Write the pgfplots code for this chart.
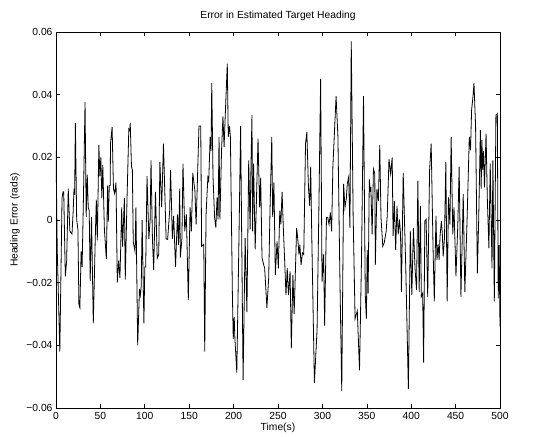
\documentclass[border=0pt]{standalone}
\usepackage{pgfplots}
\pgfplotsset{compat=1.18}
\usepackage{fontspec}
\setmainfont{Liberation Sans}
\begin{document}
\begin{tikzpicture}[font=\fontsize{10.3bp}{12bp}\selectfont]
\begin{axis}[
  scale only axis,
  width=444bp, height=376bp,
  xmin=0, xmax=500, ymin=-0.06, ymax=0.06,
  xtick={0,50,...,500},
  ytick={-0.06,-0.04,-0.02,0,0.02,0.04,0.06},
  yticklabels={−0.06,−0.04,−0.02,0,0.02,0.04,0.06},
  scaled y ticks=false,
  /pgf/number format/assume math mode=true,
  tick align=inside,
  major tick length=4.5bp,
  axis line style={line width=0.7bp},
  every tick/.style={black,line width=0.6bp},
  xticklabel style={yshift=-0.5bp},
  title={Error in Estimated Target Heading},
  title style={at={([yshift=10bp]axis description cs:0.5,1)},anchor=center},
  xlabel={Time(s)},
  xlabel style={at={([yshift=-20bp]axis description cs:0.5,0)},anchor=center},
  ylabel={Heading Error (rads)},
  ylabel style={at={([xshift=-41bp]axis description cs:0,0.5)},anchor=center},
]
\coordinate (fsw) at (rel axis cs:0,0);
\coordinate (fne) at (rel axis cs:1,1);
\addplot[black,line width=0.8bp,mark=none] coordinates {
(0,0.022)(1.4,-0.0095)(4.3,-0.042)(6.8,0.007)(7.9,0.009)(8.7,0.009)(10.5,-0.018)(12,-0.013)(13.8,0.010)(15.6,-0.0035)(16.7,-0.004)(18,-0.0045)(19.3,0.0025)(20.3,0.010)(21,0.008)(21.8,0.031)(23.3,0.0)(24.7,-0.003)(25.8,-0.027)(26.9,-0.028)(28.3,-0.010)(29.4,-0.015)(31,0.0085)(32.7,0.0376)(34,0.001)(35.2,0.0145)(36.3,0.004)(37.4,0.003)(38.5,-0.0195)(40,0.001)(42,-0.033)(44.3,-0.005)(45.4,0.0065)(46.5,-0.0065)(48.3,0.024)(49.4,0.014)(50.5,0.020)(51.6,0.007)(52.7,0.0175)(54.5,-0.003)(56.7,-0.0124)(58.1,0.011)(58.9,-0.0005)(60,0.011)(61,0.011)(61.4,0.0245)(63.2,0.0296)(64.7,0.010)(66,0.0085)(67.6,0.012)(69,-0.020)(70.5,-0.013)(72,-0.0185)(74,0.004)(75,-0.0085)(77,0.007)(78,-0.019)(80,0.007)(82,0.029)(83,0.0285)(83.6,0.031)(85,0.017)(86,0.016)(87,-0.007)(89,-0.010)(90,0.004)(92,-0.040)(94,-0.022)(95,-0.024)(96,-0.021)(97,0.0)(99,-0.033)(100,-0.015)(101,-0.015)(102.5,0.014)(104.6,-0.006)(106,0.0)(107,0.019)(108.6,-0.006)(110,-0.016)
(112,0.009)(114,-0.0122)(115.7,-0.011)(117,0.0185)(119,0.004)(121,0.0244)(124,-0.006)(125.7,-0.0062)(128,0.0029)(129,0.016)(130,0.006)(131,-0.006)(132.5,0.0013)(134.6,-0.015)(136.8,0.0018)(138,-0.008)(139.3,0.010)(140,-0.012)(141.8,-0.006)(143,0.018)(145,-0.0036)(146.8,0.0018)(149,-0.0255)(151,0.004)(152.5,-0.0036)(154,0.015)(156.4,0.0093)(157.8,-0.0014)(159,0.010)(161,0.030)(163,0.030)(164,-0.0084)(166.4,-0.0078)(167.5,-0.042)(169,0.0018)(171,0.0136)(172,0.0125)(173.6,0.0265)(174.6,0.022)(175.4,0.0437)(176.8,0.014)(178.6,0.0008)(180,-0.0024)(181.4,0.0072)(182.5,0.0002)(183.6,0.0265)(184.6,0.0002)(186.4,0.022)(188,0.0331)(189.3,0.0233)(190.4,0.032)(192.9,0.0499)(194,0.0265)(195.4,0.030)(196.4,0.0265)(198.6,-0.0229)(199.6,-0.038)(200.7,-0.031)(201.5,-0.038)(203.6,-0.0487)(206,-0.0068)(207.9,0.030)(210.7,-0.051)(213,-0.0057)(215,-0.0294)(217,0.019)(218.6,-0.003)(219.6,0.0179)(220.7,0.0335)(221.4,-0.0036)(222.5,0.018)(224.3,-0.0094)
(227.5,0.026)(229.3,0.004)(230.5,0.0135)(232,-0.012)(233.6,-0.014)(235,-0.0154)(237.5,-0.028)(239.5,-0.0186)(241,0.003)(243,0.0265)(244,0.001)(245.4,0.012)(247,-0.0175)(248.9,-0.0068)(250.4,-0.0154)(252,0.003)(253.2,-0.0014)(254.6,0.009)(256,-0.0025)(257.5,-0.013)(259,-0.024)(260.4,-0.0154)(261.8,-0.024)(263.6,-0.0164)(265,-0.041)(266.8,-0.0175)(268.2,-0.030)(269,-0.022)(271,-0.0025)(272.5,-0.0068)(273.6,-0.011)(274.6,-0.0079)(276,-0.0143)(277.5,-0.0105)(279,-0.011)(281,0.0244)(282.5,0.028)(284.3,0.0104)(285.7,0.0045)(286.8,0.017)(288,-0.0046)(291,-0.052)(294,-0.035)(296,0.003)(298,0.045)(299.6,-0.0197)(301.4,-0.011)(302.5,-0.0337)(304.6,0.0008)(306,0.0008)(307.5,-0.0014)(309,0.0024)(310.4,-0.0036)(311.8,0.017)(315.4,0.0395)(317.5,0.0265)(319.6,-0.0165)(321.8,-0.0546)(323.9,0.0115)(325.4,0.004)(327,0.007)(328,0.0115)(329.6,0.0137)(331,-0.0025)(332.5,0.057)(334.6,0.0018)(336.8,-0.0315)(339.3,-0.029)(341.8,-0.048)(344,-0.013)
(346.3,0.0395)(348.3,-0.024)(349.5,-0.0315)(350.5,-0.0095)(351.5,-0.0234)(352.8,0.013)(354,0.009)(354.6,0.0105)(356,-0.0046)(357.5,0.0163)(359,0.0148)(359.6,-0.0143)(361.4,0.0099)(363,0.006)(364.6,0.0239)(366,0.0008)(368,-0.0084)(369.6,-0.0073)(371.8,-0.0036)(373,0.0013)(375,0.0195)(376.8,0.0148)(378.6,0.0200)(379.6,-0.0051)(381,0.006)(382.5,-0.0095)(384,0.0045)(385.4,-0.0046)(386.8,0.0002)(388,-0.0046)(389,-0.023)(391,0.015)(393.9,-0.0154)(396.8,-0.054)(399,-0.0035)(400.7,-0.024)(402.5,-0.0025)(404.3,-0.0154)(406,-0.0224)(407.5,0.0125)(409,-0.023)(410.4,0.0045)(411.4,-0.0245)(412.9,-0.0234)(414,-0.0455)(415.4,-0.0003)(416.8,0.0002)(418.6,-0.0245)(420.7,0.0158)(422.5,0.0244)(424.6,-0.0089)(426,-0.026)(427.9,0.0013)(429,-0.0127)(430.4,-0.0078)(431.4,-0.0127)(432.5,-0.0051)(434,-0.0003)(435,-0.0041)(436,-0.0116)(437.5,-0.0057)(439,0.0185)(440.5,-0.026)(442,0.0072)(443.6,-0.0014)(445,0.0265)(446.8,-0.0046)(448.2,0.004)(450.4,-0.018)(452.5,-0.0014)(454,0.017)(456,-0.0245)(458.6,0.0083)(460.4,-0.023)(463,0.0008)
(465.4,0.0265)(466.8,0.0222)(468,0.035)(469.6,0.0395)(470.7,0.0437)(472.5,0.030)(474.5,-0.017)(476,0.0)(477.9,0.0287)(478.8,0.010)(479.6,0.0255)(480.5,0.016)(481.4,0.022)(482.5,0.0104)(484.3,0.0276)(485.7,0.007)(487.5,-0.009)(489,0.018)(491,-0.0154)(492,0.019)(493.6,-0.026)(495.4,0.0335)(497,0.034)(498,-0.025)(499,-0.008)(500,-0.034)
};
\end{axis}
\pgfresetboundingbox
\path ([shift={(-56bp,-28bp)}]fsw) rectangle ([shift={(36bp,32bp)}]fne);
\end{tikzpicture}
\end{document}
